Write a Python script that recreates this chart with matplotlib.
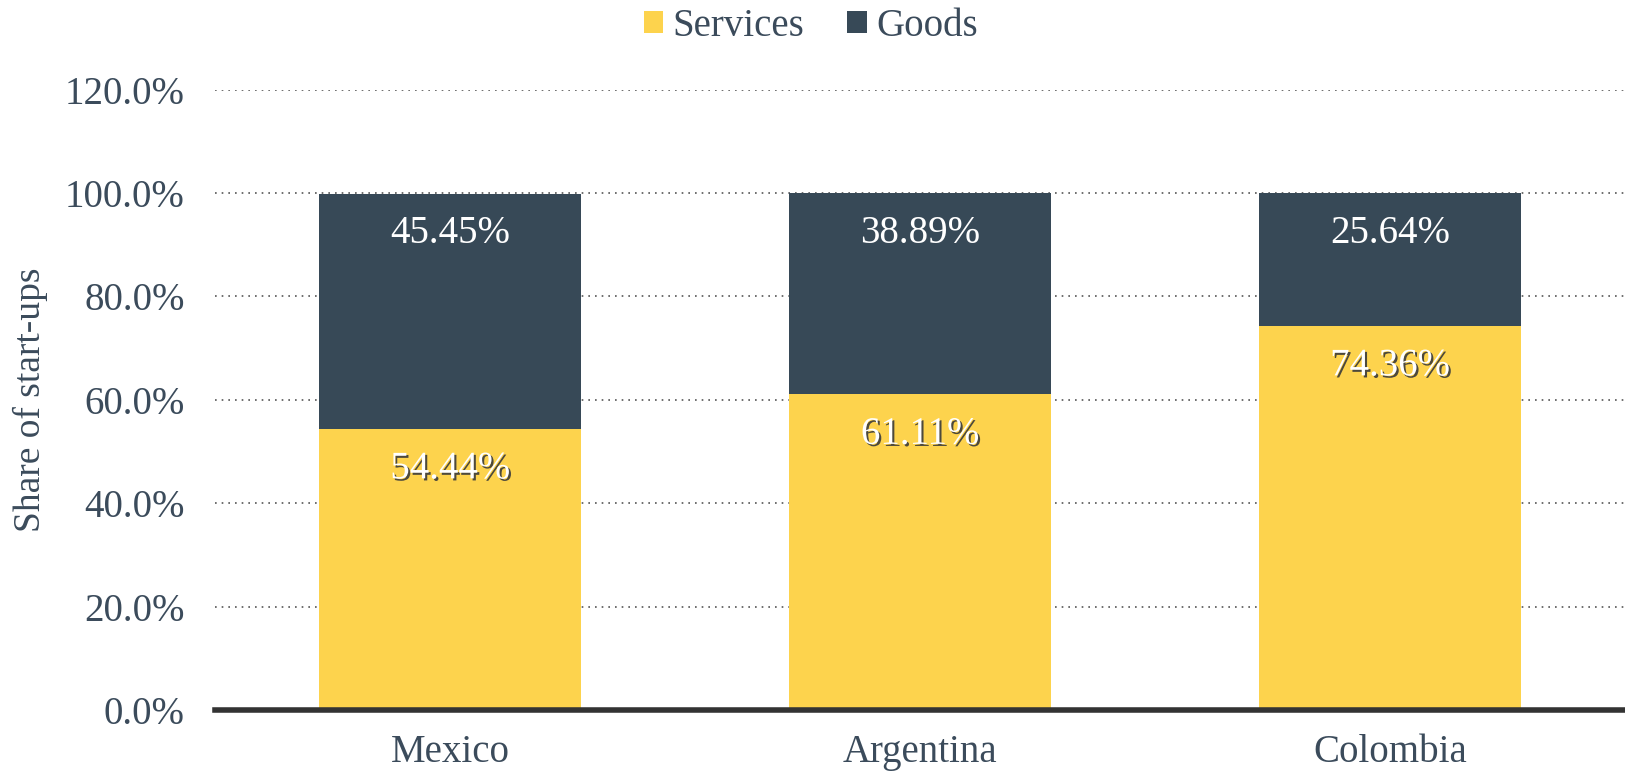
import matplotlib.pyplot as plt
import matplotlib.patheffects as pe
import numpy as np

# data
countries = ["Mexico", "Argentina", "Colombia"]
services = [54.44, 61.11, 74.36]
goods = [45.45, 38.89, 25.64]
y_ticks = [0, 20, 40, 60, 80, 100, 120]

yellow = "#FDD34D"
slate = "#374957"
text_col = "#3B4B5B"

plt.rcParams["font.family"] = ["Liberation Serif", "DejaVu Serif"]

fig = plt.figure(figsize=(16.25, 7.73), dpi=100)
ax = fig.add_axes([0.1326, 0.0815, 0.8674, 0.8025])

x = np.arange(len(countries))
width = 0.558
b1 = ax.bar(x, services, width, color=yellow, label="Services", zorder=3)
b2 = ax.bar(x, goods, width, bottom=services, color=slate, label="Goods", zorder=3)

# value labels, placed just under the top of each segment
shadow = [pe.withSimplePatchShadow(offset=(1.5, -1.5), shadow_rgbFace="#3a3a3a", alpha=0.9)]
for i in range(len(countries)):
    ax.annotate(f"{services[i]:.2f}%", (x[i], services[i]), xytext=(0, -29),
                textcoords="offset points", ha="center", va="center",
                fontsize=28, color="white", path_effects=shadow, zorder=4)
    ax.annotate(f"{goods[i]:.2f}%", (x[i], services[i] + goods[i]), xytext=(0, -29),
                textcoords="offset points", ha="center", va="center",
                fontsize=28, color="white", zorder=4)

ax.set_xlim(-0.5, 2.5)
ax.set_ylim(0, 120)
ax.set_yticks(y_ticks)
ax.set_yticklabels([f"{t:.1f}%" for t in y_ticks])
ax.set_xticks(x)
ax.set_xticklabels(countries)
ax.tick_params(axis="both", length=0, labelsize=28, labelcolor=text_col)
ax.tick_params(axis="y", pad=22)
ax.tick_params(axis="x", pad=17)

for t in y_ticks[1:]:
    ax.axhline(t, color="#555555", linestyle=(0, (1, 3)), linewidth=1.2, zorder=1)

for s in ["top", "right", "left"]:
    ax.spines[s].set_visible(False)
ax.spines["bottom"].set_color("#333333")
ax.spines["bottom"].set_linewidth(4)
ax.spines["bottom"].set_zorder(5)

ax.set_ylabel("Share of start-ups", fontsize=27, color=text_col)
ax.yaxis.set_label_coords(-0.119, 0.5)

fig.legend(handles=[b1, b2], loc="center", bbox_to_anchor=(0.499, 0.966), ncol=2,
           frameon=False, fontsize=28, labelcolor=text_col, handlelength=0.5,
           handleheight=0.5, handletextpad=0.25, columnspacing=1.1)

fig.savefig("out.png", dpi=100)
